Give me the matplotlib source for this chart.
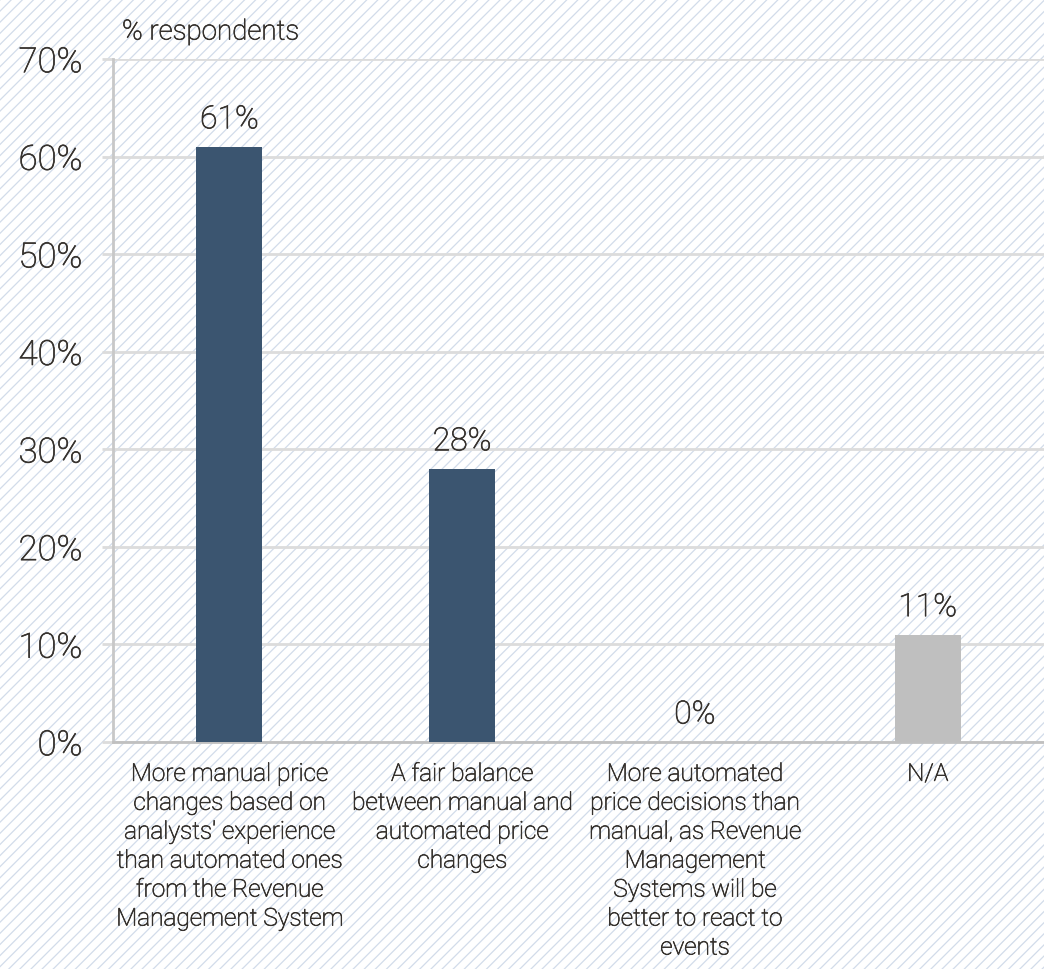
import matplotlib
matplotlib.use("Agg")
import matplotlib.pyplot as plt
import matplotlib.patheffects as pe
from matplotlib.patches import Rectangle
from matplotlib import font_manager

categories = [
    "More manual price\nchanges based on\nanalysts' experience\nthan automated ones\nfrom the Revenue\nManagement System",
    "A fair balance\nbetween manual and\nautomated price\nchanges",
    "More automated\nprice decisions than\nmanual, as Revenue\nManagement\nSystems will be\nbetter to react to\nevents",
    "N/A",
]
values = [61, 28, 0, 11]
bar_colors = ["#3b5570", "#3b5570", "#3b5570", "#bfbfbf"]
y_ticks = [0, 10, 20, 30, 40, 50, 60, 70]
y_label = "% respondents"

names = {f.name for f in font_manager.fontManager.ttflist}
family = "Roboto" if "Roboto" in names else "DejaVu Sans"
plt.rcParams["font.family"] = family
plt.rcParams["font.weight"] = "light"
plt.rcParams["hatch.color"] = "#d2dcea"
plt.rcParams["hatch.linewidth"] = 0.9

text_color = "#35312d"
# thicken the light strokes slightly
bolden = [pe.withStroke(linewidth=0.5, foreground=text_color)]

fig = plt.figure(figsize=(10.44, 9.69), dpi=100)

# striped background
bg = fig.add_axes([0, 0, 1, 1], zorder=-10)
bg.axis("off")
bg.add_patch(Rectangle((0, 0), 1, 1, transform=bg.transAxes,
                       facecolor="white", edgecolor="#d2dcea",
                       hatch="///", linewidth=0))

ax = fig.add_axes([113 / 1044, 227 / 969, 1 - 113 / 1044, (742 - 59) / 969])
ax.patch.set_alpha(0)

x = range(len(values))
bars = ax.bar(x, values, width=0.284, color=bar_colors, zorder=3)
for xi, v in zip(x, values):
    ax.annotate(f"{v}%", (xi, v), xytext=(0, 9), textcoords="offset points",
                ha="center", va="bottom", fontsize=23, color=text_color,
                path_effects=bolden)

ax.set_xlim(-0.5, 3.5)
ax.set_ylim(0, 70)
ax.set_yticks(y_ticks)
ax.set_yticklabels([f"{t}%" for t in y_ticks], fontsize=25, color=text_color,
                   path_effects=bolden)
ax.yaxis.grid(True, color="#dcdcdc", linewidth=2, zorder=0)
ax.set_axisbelow(True)
ax.tick_params(axis="y", length=8, width=2, color="#dcdcdc", pad=14)

ax.set_xticks(list(x))
ax.set_xticklabels(categories, fontsize=17.6, color=text_color, linespacing=1.33,
                   path_effects=bolden)
ax.tick_params(axis="x", length=0, pad=15)

for s in ["top", "right"]:
    ax.spines[s].set_visible(False)
ax.spines["left"].set_color("#c8c8c8")
ax.spines["left"].set_linewidth(2)
ax.spines["bottom"].set_color("#c0c0c0")
ax.spines["bottom"].set_linewidth(2)

fig.text(122 / 1044, 1 - 32 / 969, y_label, fontsize=20, color=text_color,
         ha="left", va="center", path_effects=bolden)

fig.savefig("out.png", dpi=100)
